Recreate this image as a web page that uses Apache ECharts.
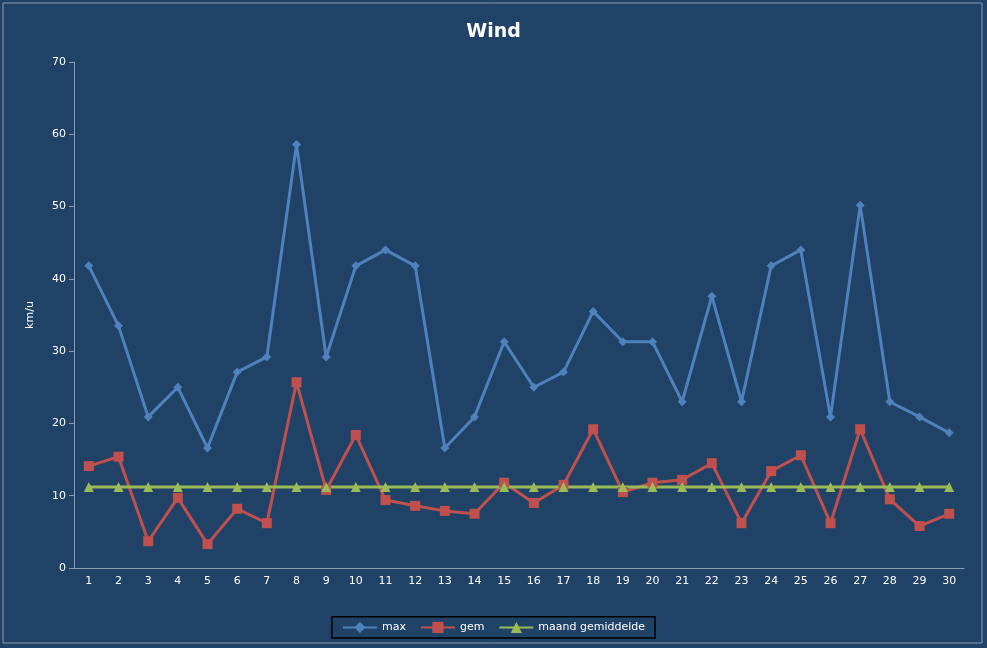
<!DOCTYPE html><html><head><meta charset="utf-8"><script src="https://cdn.jsdelivr.net/npm/echarts@6/dist/echarts.min.js"></script>
<style>body{margin:0;background:#fff}#c{width:987px;height:648px}</style></head><body><div id="c"></div><script>
const days=Array.from({length:30},(_,i)=>String(i+1));
const maxV=[41.8,33.5,20.9,25.0,16.6,27.1,29.2,58.6,29.2,41.8,44.0,41.8,16.6,20.9,31.3,25.0,27.1,35.5,31.3,31.3,23.0,37.6,23.0,41.8,44.0,20.9,50.2,23.0,20.9,18.7];
const gemV=[14.1,15.4,3.7,9.7,3.3,8.2,6.2,25.7,10.8,18.4,9.4,8.6,7.9,7.5,11.8,9.0,11.5,19.2,10.5,11.8,12.2,14.5,6.2,13.4,15.6,6.2,19.2,9.5,5.8,7.5];
const avgV=days.map(()=>11.2);
const c=echarts.init(document.getElementById('c'));
const ax={lineStyle:{color:'#8a9bb0'}};
const tx={color:'#fff',fontFamily:'DejaVu Sans',fontSize:11};
c.setOption({
 backgroundColor:'#1f4266',
 graphic:[{type:'rect',shape:{x:3,y:3,width:979,height:640},style:{fill:'none',stroke:'#8a9bb0',lineWidth:1}}],
 title:{text:'Wind',left:'center',top:18,textStyle:{color:'#fff',fontSize:19,fontWeight:'bold',fontFamily:'DejaVu Sans'}},
 grid:{left:74,right:23,top:62,bottom:80},
 legend:{bottom:10,itemGap:14,itemWidth:34,backgroundColor:'#1f4266',borderColor:'#000',borderWidth:1.5,padding:[5,10],textStyle:{color:'#fff',fontSize:11,fontFamily:'DejaVu Sans'},data:['max','gem','maand gemiddelde']},
 xAxis:{type:'category',data:days,axisLine:ax,axisTick:{lineStyle:ax.lineStyle},axisLabel:tx},
 yAxis:{type:'value',min:0,max:70,interval:10,name:'km/u',nameLocation:'middle',nameGap:38,nameTextStyle:tx,splitLine:{show:false},axisLine:{show:true,lineStyle:ax.lineStyle},axisTick:{show:true,lineStyle:ax.lineStyle},axisLabel:tx},
 series:[
  {name:'max',type:'line',data:maxV,symbol:'diamond',symbolSize:9,color:'#4f81bd',lineStyle:{width:3}},
  {name:'gem',type:'line',data:gemV,symbol:'rect',symbolSize:10,color:'#c0504d',lineStyle:{width:3}},
  {name:'maand gemiddelde',type:'line',data:avgV,symbol:'triangle',symbolSize:10,color:'#9bbb59',lineStyle:{width:3}}
 ]});
</script></body></html>
